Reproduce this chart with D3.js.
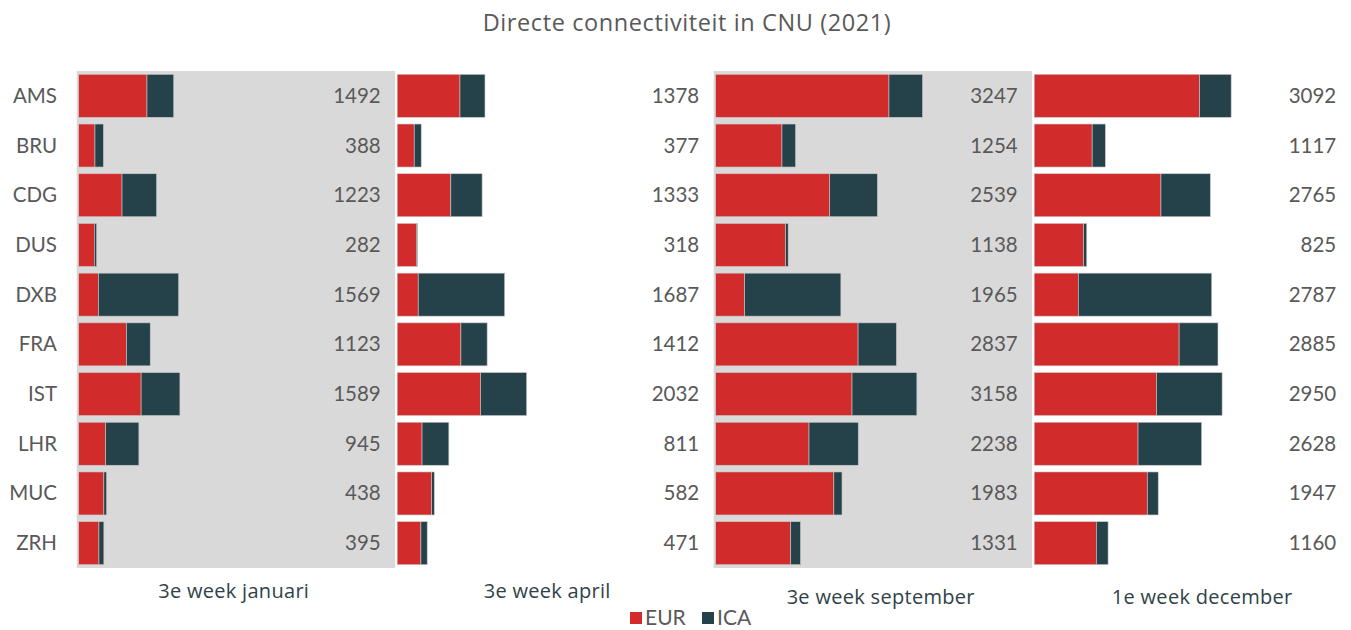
<!DOCTYPE html>
<html>
<head>
<meta charset="utf-8">
<script src="https://cdn.jsdelivr.net/npm/d3@7"></script>
<style>
  body { margin: 0; background: #fff; }
  svg { display: block; font-family: Lato, "Open Sans", sans-serif; }
</style>
</head>
<body>
<div id="chart"></div>
<script>
// data
var airports = ["AMS", "BRU", "CDG", "DUS", "DXB", "FRA", "IST", "LHR", "MUC", "ZRH"];
var periods = ["3e week januari", "3e week april", "3e week september", "1e week december"];
var seriesNames = ["EUR", "ICA"];

var eurJan = [1072, 255, 680, 245, 310, 750, 980, 424, 395, 318];
var icaJan = [420, 133, 543, 37, 1259, 373, 609, 521, 43, 77];
var eurApr = [985, 267, 842, 302, 330, 1000, 1308, 390, 540, 372];
var icaApr = [393, 110, 491, 16, 1357, 412, 724, 421, 42, 99];
var eurSep = [2720, 1040, 1790, 1098, 455, 2235, 2140, 1465, 1855, 1178];
var icaSep = [527, 214, 749, 40, 1510, 602, 1018, 773, 128, 153];
var eurDec = [2597, 910, 1990, 775, 692, 2275, 1920, 1630, 1775, 975];
var icaDec = [495, 207, 775, 50, 2095, 610, 1030, 998, 172, 185];

var eurAll = [eurJan, eurApr, eurSep, eurDec];
var icaAll = [icaJan, icaApr, icaSep, icaDec];

var W = 1351, H = 630;
var red = "#d22b2b", dark = "#25424a", grey = "#d9d9d9", textGrey = "#595959", titleCol = "#2f4248";

var svg = d3.select("#chart").append("svg")
  .attr("width", W).attr("height", H);

// one panel per period, every panel same 0..5000 axis
var panelX = d3.scaleBand().domain(periods).range([78.7, 78.7 + 4 * 318.5]).padding(0);
var x = d3.scaleLinear().domain([0, 5000]).range([0, panelX.bandwidth()]);
var y = d3.scaleBand().domain(airports).range([71, 568]).paddingInner(0.135).paddingOuter(0.067);
var color = d3.scaleOrdinal().domain(seriesNames).range([red, dark]);

svg.append("text")
  .attr("x", 687).attr("y", 31)
  .attr("text-anchor", "middle")
  .style("font-family", "'Open Sans', sans-serif")
  .style("font-size", "23.5px")
  .style("letter-spacing", "0.6px")
  .style("fill", textGrey)
  .text("Directe connectiviteit in CNU (2021)");

// grey backgrounds on 1st and 3rd panel
[0, 2].forEach(function(i) {
  svg.append("rect")
    .attr("x", panelX(periods[i]) - 2)
    .attr("y", 71)
    .attr("width", panelX.bandwidth())
    .attr("height", 497)
    .attr("fill", grey);
});

var titleDy = [598, 598, 604, 604];

periods.forEach(function(p, i) {
  var rows = airports.map(function(a, j) {
    return { airport: a, EUR: eurAll[i][j], ICA: icaAll[i][j] };
  });
  var stacked = d3.stack().keys(seriesNames)(rows);
  var g = svg.append("g").attr("transform", "translate(" + panelX(p) + ",0)");

  g.selectAll("g.series")
    .data(stacked)
    .enter().append("g")
      .attr("class", "series")
      .attr("fill", function(d) { return color(d.key); })
    .selectAll("rect")
    .data(function(d) { return d; })
    .enter().append("rect")
      .attr("x", function(d) { return x(d[0]); })
      .attr("y", function(d) { return y(d.data.airport); })
      .attr("width", function(d) { return x(d[1]) - x(d[0]); })
      .attr("height", y.bandwidth())
      .attr("stroke", "#c8c8c8")
      .attr("stroke-width", 0.6);

  g.selectAll("text.total")
    .data(rows)
    .enter().append("text")
      .attr("class", "total")
      .attr("x", 302)
      .attr("y", function(d) { return y(d.airport) + y.bandwidth() / 2 + 7; })
      .attr("text-anchor", "end")
      .style("font-size", "20.5px")
      .style("fill", textGrey)
      .text(function(d) { return d.EUR + d.ICA; });

  svg.append("text")
    .attr("x", panelX(p) + [155, 150, 165, 168][i])
    .attr("y", titleDy[i])
    .attr("text-anchor", "middle")
    .style("font-family", "'Open Sans', sans-serif")
    .style("font-size", "20px")
    .style("letter-spacing", "0.3px")
    .style("fill", titleCol)
    .text(p);
});

// airport labels
svg.selectAll("text.cat")
  .data(airports)
  .enter().append("text")
    .attr("class", "cat")
    .attr("x", 57)
    .attr("y", function(d) { return y(d) + y.bandwidth() / 2 + 7; })
    .attr("text-anchor", "end")
    .style("font-size", "20.5px")
    .style("fill", textGrey)
    .text(function(d) { return d; });

// legend
var legend = svg.append("g").attr("transform", "translate(630,612)");
var legX = [0, 72];
seriesNames.forEach(function(s, i) {
  legend.append("rect")
    .attr("x", legX[i]).attr("y", 0)
    .attr("width", 12).attr("height", 12)
    .attr("fill", color(s));
  legend.append("text")
    .attr("x", legX[i] + 15).attr("y", 13)
    .style("font-size", "21px")
    .style("fill", textGrey)
    .text(s);
});
</script>
</body>
</html>
